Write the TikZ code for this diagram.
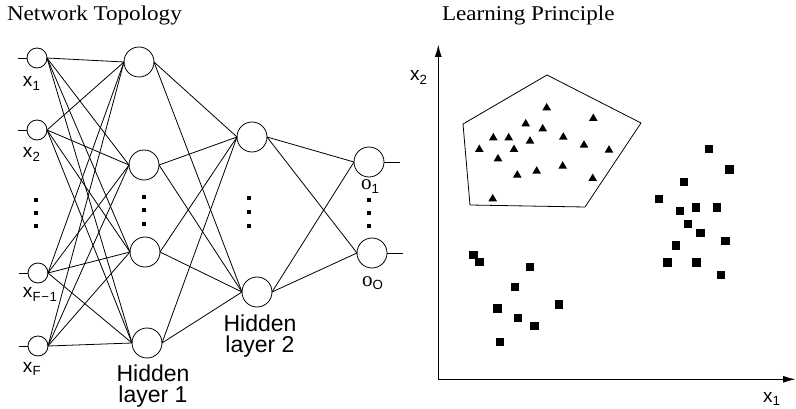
\documentclass[tikz,border=0pt]{standalone}
\usepackage{fontspec}
\setmainfont{Liberation Serif}
\setsansfont{Liberation Sans}
\usetikzlibrary{arrows.meta}
\newcommand{\widetext}[1]{\scalebox{1.1}[1]{#1}}
\begin{document}
\begin{tikzpicture}[x=1pt,y=-1pt,
  every node/.style={inner sep=0pt,outer sep=0pt},
  neuron/.style={circle,draw,line width=0.8pt,minimum size=#1},
  neuron/.default=30pt,
  link/.style={line width=0.8pt},
  lbl/.style={font=\sffamily\fontsize{19}{20}\selectfont},
  layername/.style={font=\sffamily\fontsize{23}{21}\selectfont,align=center,anchor=base},
  title/.style={font=\fontsize{21}{24}\selectfont,anchor=base west},
  axis/.style={line width=1.6pt,-{Latex[length=13pt,width=7pt]}},
  hull/.style={line width=0.8pt}]
\useasboundingbox (0,0) rectangle (796,409);

% ---------- network topology ----------
\node[title] (t1) at (7,21) {\widetext{Network Topology}};

\node[neuron=20pt] (i1) at (37,58) {};
\node[neuron=20pt] (i2) at (37,130) {};
\node[neuron=20pt] (i3) at (38,273) {};
\node[neuron=20pt] (i4) at (38,346) {};

\node[neuron] (a1) at (139,62) {};
\node[neuron] (a2) at (144,165) {};
\node[neuron] (a3) at (145,252) {};
\node[neuron] (a4) at (147,343) {};

\node[neuron] (b1) at (252,137) {};
\node[neuron] (b2) at (257,292) {};

\node[neuron] (o1) at (369,162) {};
\node[neuron] (o2) at (372,253) {};

% input and output stubs
\foreach \n in {i1,i2,i3,i4} {
  \coordinate (s\n) at ([xshift=-9pt]\n.west);
  \draw[link] (s\n) -- (\n.west);
}
\foreach \n in {o1,o2} {
  \coordinate (s\n) at ([xshift=16pt]\n.east);
  \draw[link] (\n.east) -- (s\n);
}

% full connections between layers
\foreach \u in {i1,i2,i3,i4}
  \foreach \v in {a1,a2,a3,a4}
    \draw[link] (\u.east) -- (\v.west);
\foreach \u in {a1,a2,a3,a4}
  \foreach \v in {b1,b2}
    \draw[link] (\u.east) -- (\v.west);
\foreach \u in {b1,b2}
  \foreach \v in {o1,o2}
    \draw[link] (\u.east) -- (\v.west);

% vertical ellipses
\foreach \x/\ya/\yb/\yc in {36/200/213/226, 144/197/210/224, 249/198/212/226, 369/200/213/226}
  \foreach \y in {\ya,\yb,\yc}
    \fill (\x-2,\y-2) rectangle (\x+2,\y+2);

% labels
\node[lbl,anchor=base west] (lx1) at (23,87) {x\textsubscript{1}};
\node[lbl,anchor=base west] (lx2) at (23,158) {x\textsubscript{2}};
\node[lbl,anchor=base west] (lx3) at (23,298) {x\textsubscript{F\kern0.05em−\kern0.05em1}};
\node[lbl,anchor=base west] (lx4) at (23,372) {x\textsubscript{F}};
\node[lbl,anchor=base west] (lo1) at (361,190) {\rmfamily\fontsize{21}{21}\selectfont o\sffamily\fontsize{19}{20}\selectfont\textsubscript{1}};
\node[lbl,anchor=base west] (lo2) at (362,286) {\rmfamily\fontsize{21}{21}\selectfont o\sffamily\fontsize{19}{20}\selectfont\textsubscript{O}};
\node[layername] (h1) at (153,402) {Hidden\\layer 1};
\node[layername] (h2) at (260,352) {Hidden\\layer 2};

% ---------- learning principle ----------
\node[title] (t2) at (442,21) {\widetext{Learning Principle}};

\coordinate (org) at (438.3,379.3);
\coordinate (ytip) at (438.3,44);
\coordinate (xtip) at (796,379.3);
\draw[axis] (org) -- (ytip);
\draw[axis] (org) -- (xtip);
\node[lbl,anchor=base west] (ax2) at (410,81) {x\textsubscript{2}};
\node[lbl,anchor=base west] (ax1) at (763,402) {x\textsubscript{1}};

% hull around the triangle class
\draw[hull] (547,75) -- (641,123) -- (585,207) -- (470,205) -- (463,124) -- cycle;

% triangle class
\foreach \x/\y in {546.7/106.7, 593.3/117.3, 525.7/122.7, 542.7/127.7, 493.3/136.7,
  508.7/136.7, 563.3/136, 530/140, 479.3/148.3, 514/148.3, 584/144, 609/149,
  498/157.7, 562.7/165, 536.7/170, 517.3/174, 592.7/177.3, 492.7/197.7}
  \fill (\x-4.3,\y+3.6) -- (\x+4.3,\y+3.6) -- (\x,\y-3.8) -- cycle;

% square classes
\foreach \x/\y in {473.3/255, 479.3/261.7, 530/266.7, 514.7/286.7, 558.7/304.3,
  497.3/308.3, 517.7/318, 534.3/326, 500/341.7,
  709/149.3, 729.3/169.7, 683.7/182, 658.7/199.3, 680/211.3, 696/207.7, 717/207.7,
  688/224.3, 700.3/233, 725.3/241.3, 675.7/245.7, 667.3/262.3, 696.3/262.3, 720.7/274.7}
  \fill (\x-4.2,\y-4.2) rectangle (\x+4.2,\y+4.2);
\end{tikzpicture}
\end{document}
